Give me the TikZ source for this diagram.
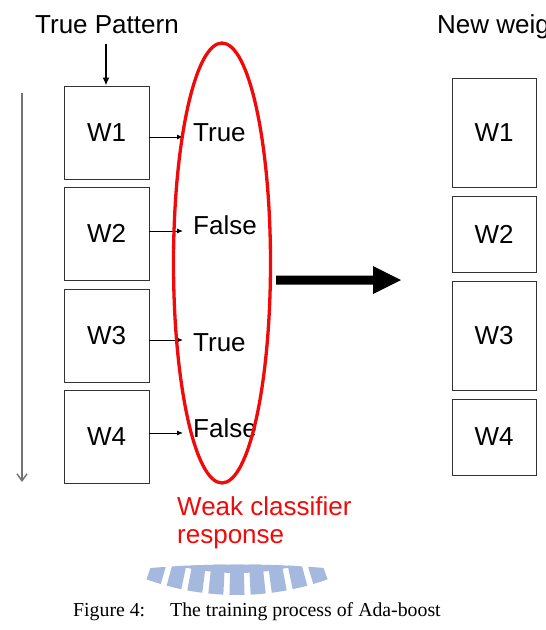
\documentclass[tikz,border=0pt]{standalone}
\usepackage{fontspec}
\setmainfont{Liberation Sans}
\newfontfamily\capfont{Liberation Serif}
\usetikzlibrary{arrows.meta,shapes.geometric}
\definecolor{wmblue}{RGB}{165,185,222}
\definecolor{redline}{RGB}{240,10,10}
\begin{document}
\begin{tikzpicture}[x=1pt,y=-1pt,
  wbox/.style={draw=black!80,line width=0.9pt,inner sep=0pt,minimum width=85pt,font=\fontsize{26}{28}\selectfont},
  lbl/.style={inner sep=0pt,font=\fontsize{26}{28}\selectfont},
  captxt/.style={inner sep=0pt,anchor=base west,font=\capfont\fontsize{19.8}{22}\selectfont},
  small/.style={-{Latex[length=6pt,width=5pt]},line width=0.9pt}]
\useasboundingbox (0,0) rectangle (546,630);
\clip (0,0) rectangle (546,630);
% watermark
\begin{scope}
  \clip (140,569) .. controls (200,563) and (275,563) .. (335,569) -- (335,630) -- (140,630) -- cycle;
  \begin{scope}[shift={(237,325)}]
  \foreach \a in {72,76.5,...,108.5} {
    \fill[wmblue] (\a-1.6:200) -- (\a-1.6:270) arc[start angle=\a-1.6,end angle=\a+1.6,radius=270] -- (\a+1.6:200) -- cycle;
  }
  \fill[wmblue] (69:200) -- (69:248) arc[start angle=69,end angle=111,radius=248] -- (111:200) -- cycle;
  \end{scope}
\end{scope}
% titles
\node[lbl,anchor=base west] (tp) at (35,33) {True Pattern};
\node[lbl,anchor=base west] (nw) at (437,33) {New weights};
% left boxes
\node[wbox,minimum height=93pt] (w1) at (106.5,132.5) {W1};
\node[wbox,minimum height=93pt] (w2) at (106.5,233.5) {W2};
\node[wbox,minimum height=93pt] (w3) at (106.5,335.5) {W3};
\node[wbox,minimum height=93pt] (w4) at (106.5,436.5) {W4};
% right boxes
\node[wbox,minimum width=84pt,minimum height=109pt] (n1) at (494,132.5) {W1};
\node[wbox,minimum width=84pt,minimum height=76pt] (n2) at (494,234) {W2};
\node[wbox,minimum width=84pt,minimum height=109pt] (n3) at (494,335.5) {W3};
\node[wbox,minimum width=84pt,minimum height=76pt] (n4) at (494,437) {W4};
% responses
\node[lbl,anchor=west] (r1) at (193,133) {True};
\node[lbl,anchor=west] (r2) at (193,225) {False};
\node[lbl,anchor=west] (r3) at (193,343) {True};
\node[lbl,anchor=west] (r4) at (193,428) {False};
\coordinate (t1) at (183,137);
\coordinate (t2) at (183,231);
\coordinate (t3) at (183,340);
\coordinate (t4) at (183,433);
\draw[small] (w1.east |- t1) -- (t1);
\draw[small] (w2.east |- t2) -- (t2);
\draw[small] (w3.east |- t3) -- (t3);
\draw[small] (w4.east |- t4) -- (t4);
% true pattern arrow
\coordinate (tpa) at (106,44);
\draw[-{Latex[length=8pt,width=7pt]},line width=2pt] (tpa) -- (w1.north -| tpa);
% red ellipse
\node[draw=redline,line width=3.3pt,ellipse,minimum width=97pt,minimum height=440pt,inner sep=0pt] (ell) at (222,263) {};
% gray arrow
\coordinate (g0) at (22,93);
\coordinate (g1) at (22,482);
\draw[black!55,line width=1.4pt,-{Straight Barb[length=7pt,width=10pt]}] (g0) -- (g1);
% big arrow
\coordinate (b0) at (276,280);
\coordinate (b1) at (401,280);
\fill[black] (276,275.5) -- (373,275.5) -- (373,266) -- (b1) -- (373,294) -- (373,284.5) -- (276,284.5) -- cycle;
% weak classifier
\node[lbl,text=redline,anchor=base west,align=left,font=\fontsize{26}{28}\selectfont] (wc) at (177,543) {Weak classifier\\response};
% caption
\node[captxt] (capa) at (73,616) {Figure 4:};
\node[captxt] (capb) at (170,616) {The training process of Ada-boost};
\end{tikzpicture}
\end{document}
